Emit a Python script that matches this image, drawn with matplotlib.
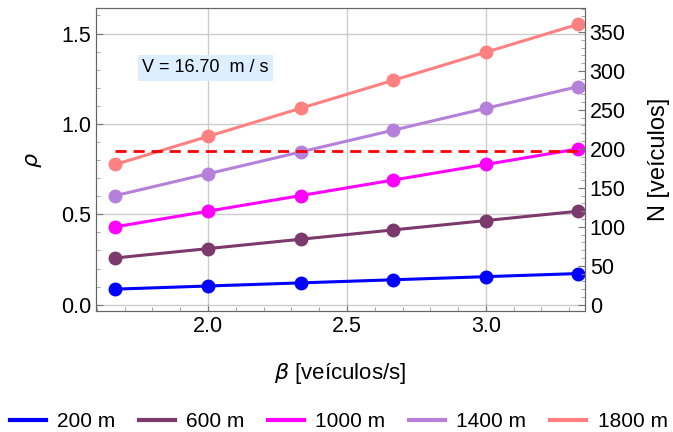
import matplotlib.pyplot as plt
from matplotlib.ticker import MultipleLocator

plt.rcParams['font.family'] = ['Liberation Sans', 'DejaVu Sans']

# dados
beta = [1.667, 2.0, 2.333, 2.667, 3.0, 3.333]
labels = ["200 m", "600 m", "1000 m", "1400 m", "1800 m"]
N_200 = [20, 24, 28, 32, 36, 40]
N_600 = [60, 72, 84, 96, 108, 120]
N_1000 = [100, 120, 140, 160, 180, 200]
N_1400 = [140, 168, 196, 224, 252, 280]
N_1800 = [180, 216, 252, 288, 324, 360]
series = [N_200, N_600, N_1000, N_1400, N_1800]
colors = ["#0000ff", "#7b3a6b", "#ff00ff", "#b580d9", "#ff8080"]
rho_crit = 0.85
N_per_rho = 232.0

fig = plt.figure(figsize=(6.73, 4.32), dpi=100)
ax = fig.add_axes([0.143, 0.28, 0.726, 0.701])
ax2 = ax.twinx()

for N, c, lab in zip(series, colors, labels):
    rho = [n / N_per_rho for n in N]
    ax.plot(beta, rho, color=c, lw=2.2, marker="o", ms=9, label=lab)

ax.plot([beta[0], beta[-1]], [rho_crit, rho_crit], color="red", lw=2, ls=(0, (4, 2.5)))

ax.set_xlim(1.598, 3.356)
ax.set_ylim(-0.035, 1.64)
ax2.set_ylim(-0.035 * N_per_rho, 1.64 * N_per_rho)

ax.xaxis.set_major_locator(MultipleLocator(0.5))
ax.xaxis.set_minor_locator(MultipleLocator(0.1))
ax.yaxis.set_major_locator(MultipleLocator(0.5))
ax.yaxis.set_minor_locator(MultipleLocator(0.1))
ax2.yaxis.set_major_locator(MultipleLocator(50))
ax2.yaxis.set_minor_locator(MultipleLocator(10))

ax.grid(True, which="major", color="#cccccc", lw=1)
for a in (ax, ax2):
    a.tick_params(which="major", direction="in", length=5, labelsize=15.5, color="#777777")
    a.tick_params(which="minor", direction="in", length=3, color="#999999")
    for s in a.spines.values():
        s.set_color("#666666")

ax.set_xlabel(r"$\beta$ [veículos/s]", fontsize=16, labelpad=17)
ax.set_ylabel(r"$\rho$", fontsize=16, labelpad=12)
ax2.set_ylabel("N [veículos]", fontsize=17, labelpad=16)

ax.text(1.99, 1.31, "V = 16.70  m / s", fontsize=13, ha="center", va="center",
        bbox=dict(facecolor="#ddeeff", edgecolor="none", pad=3))

leg_lines = [plt.Line2D([], [], color=c, lw=3) for c in colors]
fig.legend(leg_lines, labels, loc="lower center", ncol=5, frameon=False,
           fontsize=15, handlelength=1.73, handletextpad=0.53, columnspacing=1.15,
           borderaxespad=0, bbox_to_anchor=(0.503, -0.018))

fig.savefig("out.png", dpi=100)
